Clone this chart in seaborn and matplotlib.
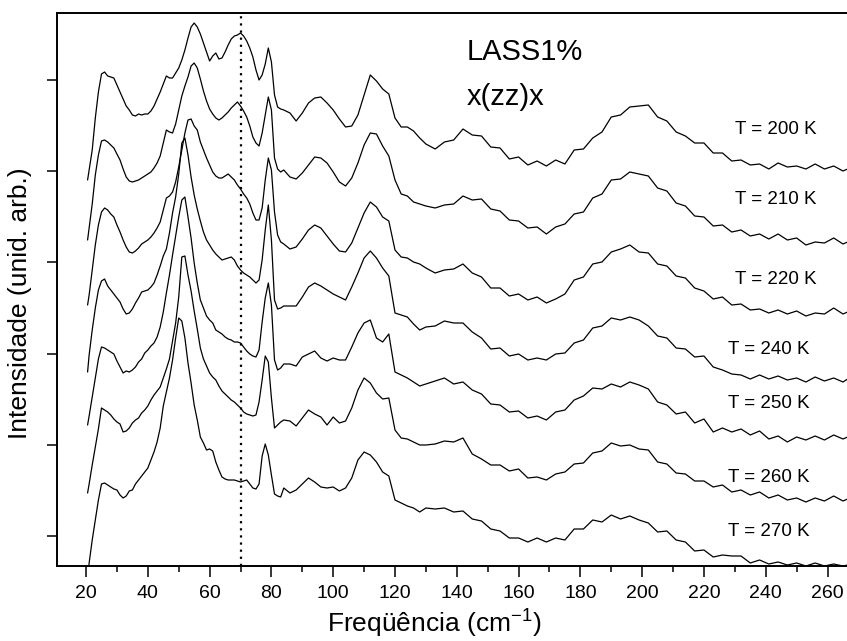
import matplotlib
matplotlib.use("Agg")
import matplotlib.pyplot as plt
from matplotlib.ticker import MultipleLocator, FixedLocator
import seaborn as sns

# Raman shift (cm^-1) sampling positions
freq = [20.5, 21, 22, 23, 24, 25, 26, 27, 28, 29, 30, 31, 32, 33, 34, 35, 36, 37, 38, 39,
        40, 41, 42, 43, 44, 45, 46, 47, 48, 49, 50, 51, 52, 53, 54, 55, 56, 57, 58, 59,
        60, 61, 62, 63, 64, 65, 66, 67, 68, 69, 70, 71, 72, 73, 74, 75, 76, 77, 78, 79,
        80, 81, 82, 83, 84,
        86, 88, 90, 92, 94, 96, 98, 100, 102, 104, 106, 108, 110, 112, 114, 116, 118, 120,
        122, 124, 126, 128, 130,
        133, 136, 139, 142, 145, 148, 151, 154, 157, 160, 163, 166, 169, 172, 175, 178,
        181, 184, 187, 190, 193, 196, 199, 202, 205, 208, 211, 214, 217, 220, 223, 226,
        229, 232, 235, 238, 241, 244, 247, 250, 253, 256, 259, 262, 265, 266.5]

# Stacked intensities (arb. units), one list per temperature
int_200K = [420, 430, 450, 482, 508, 526, 528, 524, 523, 522, 515, 508, 501, 494, 490,
            485, 484, 486, 485, 486, 486, 489, 494, 501, 508, 516, 524, 522, 522, 527, 532, 540, 550, 562, 573,
            577, 573, 566, 557, 548, 539, 544, 547, 541, 542, 548, 555, 561, 564, 565, 567, 564, 559, 552, 543,
            530, 520, 525, 536, 552, 538, 505, 493, 491, 490,
            487, 479, 487, 497, 502, 503, 497, 490, 481, 473, 474, 485, 505, 525, 519, 511, 506, 482, 473, 473, 469, 462, 456,
            451, 458, 460, 471, 465, 464, 453, 452, 441, 443, 435, 439, 434, 440, 436, 450, 451, 462, 468, 483,
            485, 493, 494, 495, 483, 479, 468, 464, 457, 457, 447, 447, 439, 440, 435, 436, 431, 437, 433, 434,
            431, 436, 431, 434, 429, 431]
int_210K = [360, 372, 396, 425, 445, 459, 460, 458, 455, 452, 446, 440, 431, 423, 419,
            418, 419, 420, 422, 424, 426, 428, 432, 437, 444, 457, 470, 468, 467, 476, 490, 504, 514, 523, 534,
            537, 532, 521, 509, 499, 491, 486, 482, 480, 482, 485, 488, 492, 495, 498, 494, 489, 483, 474, 463,
            457, 454, 467, 485, 503, 490, 442, 431, 428, 430,
            423, 421, 427, 435, 443, 442, 437, 428, 418, 414, 422, 437, 455, 467, 466, 454, 444, 420, 406, 404, 398, 396, 394,
            392, 395, 396, 404, 400, 401, 391, 389, 380, 379, 372, 373, 366, 373, 376, 386, 388, 402, 406, 420,
            421, 428, 426, 424, 412, 409, 397, 394, 384, 383, 374, 375, 368, 370, 364, 366, 361, 366, 360, 362,
            355, 358, 357, 362, 356, 358]
int_220K = [295, 305, 330, 355, 375, 388, 392, 390, 386, 383, 375, 368, 360, 353, 348,
            347, 349, 352, 356, 358, 360, 363, 367, 372, 378, 390, 402, 404, 408, 418, 433, 450, 467, 480, 481,
            474, 470, 458, 450, 442, 435, 428, 424, 422, 422, 424, 426, 423, 420, 415, 411, 406, 402, 396, 387,
            380, 380, 392, 420, 442, 430, 388, 365, 358, 356,
            351, 353, 361, 370, 375, 372, 364, 356, 349, 348, 357, 372, 387, 398, 393, 383, 379, 350, 343, 342, 338, 336, 332,
            327, 330, 331, 336, 327, 323, 312, 312, 304, 306, 300, 303, 297, 301, 306, 320, 323, 336, 338, 348,
            351, 355, 348, 347, 336, 334, 324, 322, 312, 309, 301, 303, 295, 296, 290, 291, 287, 290, 286, 289,
            284, 287, 286, 292, 286, 288]
int_240K = [228, 245, 270, 292, 310, 319, 321, 314, 310, 306, 302, 298, 291, 286, 287,
            291, 297, 302, 308, 309, 310, 313, 317, 325, 334, 344, 351, 367, 387, 403, 426, 457, 462, 445, 423,
            405, 391, 379, 368, 360, 355, 350, 346, 343, 340, 341, 342, 343, 340, 334, 330, 327, 325, 323, 320,
            317, 320, 340, 370, 395, 360, 300, 291, 292, 294,
            294, 294, 303, 313, 317, 314, 310, 306, 303, 300, 313, 327, 342, 349, 342, 332, 324, 287, 285, 283, 276, 270, 273,
            274, 279, 277, 277, 268, 262, 251, 252, 244, 246, 240, 242, 240, 246, 247, 257, 260, 272, 274, 282,
            280, 283, 280, 274, 264, 262, 252, 251, 243, 244, 233, 230, 226, 225, 221, 225, 221, 224, 220, 222,
            218, 223, 219, 222, 218, 221]
int_250K = [175, 184, 203, 222, 241, 253, 252, 250, 248, 246, 239, 233, 227, 229, 228,
            230, 233, 238, 241, 247, 250, 254, 257, 263, 273, 288, 307, 325, 345, 364, 383, 400, 403, 383, 362,
            337, 317, 300, 292, 284, 280, 277, 270, 268, 266, 263, 261, 260, 258, 258, 257, 253, 249, 246, 244,
            243, 250, 278, 302, 317, 295, 240, 230, 232, 236,
            236, 234, 243, 246, 249, 242, 239, 242, 240, 240, 253, 267, 277, 280, 262, 258, 266, 228, 225, 222, 218, 214, 216,
            219, 222, 216, 218, 210, 206, 196, 195, 188, 189, 182, 184, 180, 188, 190, 200, 204, 212, 211, 216,
            213, 218, 215, 211, 198, 195, 186, 188, 177, 181, 168, 172, 168, 171, 165, 169, 161, 164, 158, 163,
            160, 164, 160, 165, 161, 163]
int_260K = [107, 116, 135, 153, 171, 192, 190, 188, 185, 181, 178, 176, 168, 169, 172,
            177, 180, 182, 187, 190, 194, 200, 205, 209, 213, 222, 231, 241, 259, 277, 303, 343, 344, 325, 309,
            289, 271, 252, 241, 234, 227, 223, 220, 214, 209, 206, 203, 200, 198, 195, 192, 188, 186, 185, 184,
            185, 198, 220, 244, 238, 202, 172, 175, 178, 180,
            179, 174, 182, 190, 186, 183, 175, 183, 177, 179, 192, 210, 222, 217, 207, 201, 202, 170, 162, 161, 158, 155, 155,
            156, 159, 158, 162, 146, 141, 135, 135, 129, 131, 122, 123, 120, 126, 128, 136, 137, 147, 149, 157,
            154, 155, 151, 150, 138, 136, 127, 126, 119, 119, 113, 115, 108, 110, 105, 108, 102, 105, 100, 102,
            98, 102, 99, 104, 99, 101]
int_270K = [20, 37, 60, 80, 100, 116, 117, 115, 113, 111, 110, 105, 102, 104, 109,
            110, 116, 120, 124, 128, 132, 140, 148, 158, 172, 194, 208, 222, 240, 262, 282, 279, 262, 237, 217,
            195, 180, 163, 157, 150, 151, 149, 138, 130, 123, 121, 120, 120, 120, 119, 118, 119, 120, 116, 112,
            111, 116, 144, 156, 145, 125, 106, 104, 103, 112,
            107, 110, 116, 122, 118, 113, 112, 113, 109, 112, 122, 140, 148, 145, 138, 128, 124, 100, 97, 94, 92, 88, 92,
            91, 92, 88, 89, 81, 79, 71, 69, 62, 62, 58, 62, 58, 62, 60, 71, 71, 80, 78, 85,
            81, 84, 80, 77, 68, 69, 60, 58, 49, 50, 43, 45, 44, 44, 37, 40, 36, 38, 35, 37,
            34, 37, 34, 36, 34, 35]

spectra = [int_200K, int_210K, int_220K, int_240K, int_250K, int_260K, int_270K]
temp_labels = ["T = 200 K", "T = 210 K", "T = 220 K", "T = 240 K",
               "T = 250 K", "T = 260 K", "T = 270 K"]
x_ticks = [20, 40, 60, 80, 100, 120, 140, 160, 180, 200, 220, 240, 260]
marker_line = 70

# layout of the temperature labels (data coordinates)
label_pos = [(230, 470), (230, 401), (230, 320), (227.8, 250),
             (227.8, 197), (227.8, 123), (227.8, 69)]

sns.set_theme(style="ticks")
plt.rcParams['font.family'] = ['Liberation Sans', 'DejaVu Sans']
plt.rcParams['mathtext.default'] = 'regular'
for k in ['text.color', 'axes.labelcolor', 'xtick.color', 'ytick.color', 'axes.edgecolor']:
    plt.rcParams[k] = 'black'

fig = plt.figure(figsize=(8.47, 6.41), dpi=100)
ax = fig.add_axes([57 / 847, 75.5 / 641, 790 / 847, 552.5 / 641])

for s in spectra:
    sns.lineplot(x=freq, y=s, color='black', linewidth=0.9, ax=ax,
                 estimator=None, sort=False)

ax.axvline(marker_line, color='black', lw=1.6, ls=(0, (1, 2.2)))

ax.set_xlim(10.6, 266.3)
ax.set_ylim(34.5, 587)

ax.xaxis.set_major_locator(FixedLocator(x_ticks))
ax.xaxis.set_minor_locator(MultipleLocator(10))
ax.set_yticks([64, 155.2, 246.4, 337.6, 428.8, 520])
ax.tick_params(axis='x', which='major', direction='out', length=8, width=1.1,
               labelsize=14, pad=6, top=False, bottom=True)
ax.tick_params(axis='x', which='minor', direction='out', length=4.5, width=1.1,
               top=False, bottom=True)
ax.tick_params(axis='y', which='major', direction='out', length=7, width=1.1,
               labelleft=False, left=True, right=False)

for side in ['top', 'left', 'bottom']:
    ax.spines[side].set_linewidth(1.4)
ax.spines['right'].set_visible(False)

ax.set_xlabel('Freqüência (cm$^{-1}$)', fontsize=19)
ax.xaxis.set_label_coords(0.478, -0.077)
ax.set_ylabel('Intensidade (unid. arb.)', fontsize=19)
ax.yaxis.set_label_coords(-0.032, 0.475)

ax.text(143.3, 548, 'LASS1%', fontsize=21, ha='left', va='center')
ax.text(143.3, 503, 'x(zz)x', fontsize=21, ha='left', va='center')

for (lx, ly), t in zip(label_pos, temp_labels):
    ax.text(lx, ly, t, fontsize=13.5, ha='left', va='center')

fig.savefig('out.png', dpi=100)
